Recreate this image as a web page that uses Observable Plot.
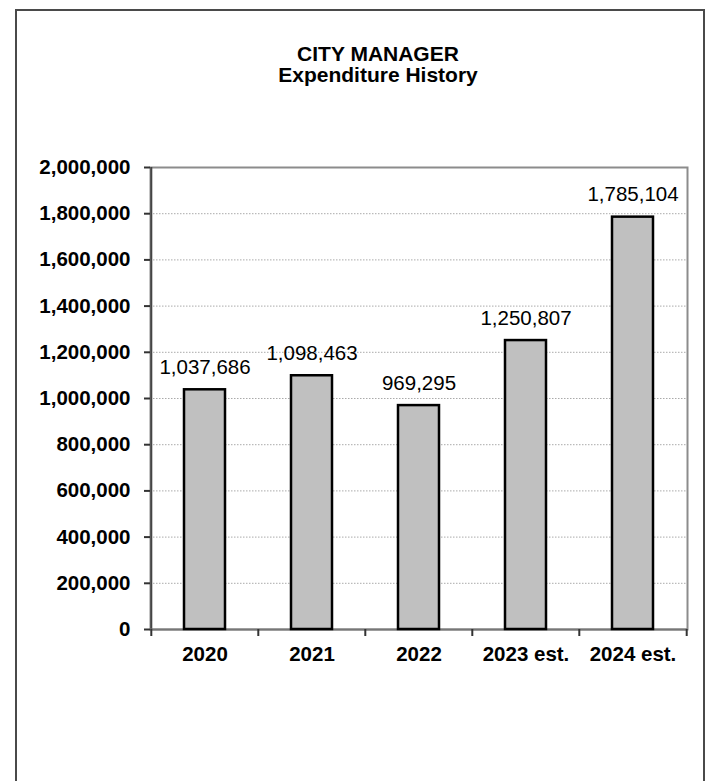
<!DOCTYPE html>
<html>
<head>
<meta charset="utf-8">
<script src="https://cdn.jsdelivr.net/npm/d3@7"></script>
<script src="https://cdn.jsdelivr.net/npm/@observablehq/plot@0.6"></script>
<style>
  html, body { margin: 0; padding: 0; background: #fff; }
  #wrap { position: relative; width: 709px; height: 781px; overflow: hidden; background: #fff;
          font-family: Arial, "Liberation Sans", sans-serif; }
  #border { position: absolute; left: 15px; top: 9px; width: 690px; height: 820px; border: 2px solid #4a4a4a; box-sizing: border-box; pointer-events: none; }
  #title { position: absolute; left: 0; top: 43px; width: 756px; text-align: center;
           font-weight: bold; font-size: 21px; line-height: 21px; color: #000; }
  #chart { position: absolute; left: 0; top: 120px; }
</style>
</head>
<body>
<div id="wrap">
  <div id="title">CITY MANAGER<br>Expenditure History</div>
  <div id="chart"></div>
  <div id="border"></div>
</div>
<script>
const categories = ["2020", "2021", "2022", "2023 est.", "2024 est."];
const expenditures = [1037686, 1098463, 969295, 1250807, 1785104];
const yTicks = [0, 200000, 400000, 600000, 800000, 1000000, 1200000, 1400000, 1600000, 1800000, 2000000];

const data = categories.map((c, i) => ({year: c, value: expenditures[i]}));
const fmt = d3.format(",");

const W = 709, H = 661, mL = 150, mR = 22, mT = 47, mB = 152;
const bw = (W - mL - mR) / categories.length;

const chart = Plot.plot({
  width: W,
  height: H,
  marginLeft: mL,
  marginRight: mR,
  marginTop: mT,
  marginBottom: mB,
  style: {fontFamily: 'Arial, "Liberation Sans", sans-serif', fontSize: "20.5px", color: "#000", background: "transparent"},
  x: {domain: categories, padding: 0, label: null},
  y: {domain: [0, 2000000], label: null},
  marks: [
    Plot.gridY(yTicks.slice(1, -1), {stroke: "#aaa", strokeOpacity: 1, strokeWidth: 1, strokeDasharray: "1.5,1.5"}),
    Plot.frame({stroke: "#8c8c8c", strokeWidth: 2}),
    Plot.ruleX([categories[0]], {x: d => d, y1: 0, y2: 2000000, dx: -bw / 2, stroke: "#444", strokeWidth: 2}),
    Plot.ruleY([0], {stroke: "#777", strokeWidth: 2}),
    Plot.ruleX(categories, {x: d => d, y1: 0, y2: 0, insetBottom: -7, dx: -bw / 2, stroke: "#333", strokeWidth: 2}),
    Plot.ruleX([categories[categories.length - 1]], {x: d => d, y1: 0, y2: 0, insetBottom: -7, dx: bw / 2, stroke: "#333", strokeWidth: 2}),
    Plot.barY(data, {x: "year", y: "value", fill: "#c0c0c0", stroke: "#000", strokeWidth: 2.5, insetLeft: 33, insetRight: 33}),
    Plot.text(data, {x: "year", y: "value", text: d => fmt(d.value), dy: -16, lineAnchor: "bottom", fontSize: 20.5, fill: "#000"}),
    Plot.axisY({ticks: yTicks, tickFormat: fmt, tickSize: 6, tickPadding: 14, fontSize: 20.5, fontWeight: "bold", stroke: "#333", strokeWidth: 2, label: null}),
    Plot.axisX({tickSize: 0, tickPadding: 17, fontSize: 20.5, fontWeight: "bold", label: null})
  ]
});
document.getElementById("chart").appendChild(chart);
</script>
</body>
</html>
